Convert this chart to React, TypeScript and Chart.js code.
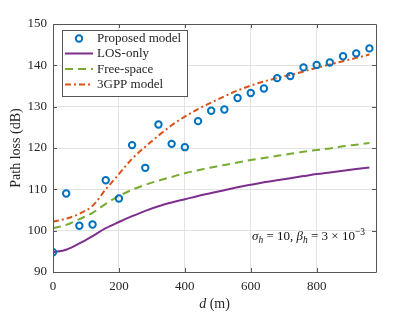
import React, { useEffect, useRef } from 'react';
import { Chart, registerables } from 'chart.js';
Chart.register(...registerables);

const distances = [0, 40, 80, 120, 160, 200, 240, 280, 320, 360, 400, 440, 480, 520, 560, 600, 640, 680, 720, 760, 800, 840, 880, 920, 960];
const proposed = [94.8, 109.0, 101.2, 101.5, 112.2, 107.8, 120.7, 115.2, 125.7, 121.0, 120.2, 126.5, 129.0, 129.3, 132.1, 133.3, 134.4, 136.9, 137.4, 139.5, 140.1, 140.7, 142.2, 142.9, 144.1];
const losOnly = [94.8, 95.4, 96.9, 98.7, 100.6, 102.1, 103.5, 104.8, 105.9, 106.8, 107.6, 108.4, 109.1, 109.8, 110.5, 111.1, 111.7, 112.2, 112.7, 113.2, 113.7, 114.1, 114.5, 114.9, 115.3];
const freeSpace = [100.6, 101.4, 102.8, 104.3, 106.5, 108.4, 109.9, 111.1, 112.1, 113.0, 113.9, 114.6, 115.3, 115.9, 116.5, 117.1, 117.6, 118.1, 118.6, 119.1, 119.5, 119.9, 120.4, 120.8, 121.2];
const gpp3 = [102.2, 102.9, 104.1, 106.0, 110.0, 113.7, 117.4, 120.3, 123.0, 125.5, 127.6, 129.4, 131.0, 132.5, 133.9, 135.1, 136.1, 136.9, 137.7, 138.5, 139.4, 140.2, 141.0, 141.8, 142.6];
const xTicks = [0, 200, 400, 600, 800];
const yTicks = [90, 100, 110, 120, 130, 140, 150];
const seriesNames = ['Proposed model', 'LOS-only', 'Free-space', '3GPP model'];

const SERIF = "'Liberation Serif', 'DejaVu Serif', serif";
const AXIS_COLOR = '#555555';
const TEXT_COLOR = '#262626';

const drawParts = (ctx: any, parts: [string, string, number][], x: number, y: number, align: 'left' | 'right' | 'center') => {
  let total = 0;
  parts.forEach(([t, f]) => { ctx.font = f; total += ctx.measureText(t).width; });
  let cx = align === 'left' ? x : align === 'right' ? x - total : x - total / 2;
  parts.forEach(([t, f, dy]) => {
    ctx.font = f;
    ctx.fillText(t, cx, y + dy);
    cx += ctx.measureText(t).width;
  });
};

const overlay = {
  id: 'overlay',
  afterDatasetsDraw(chart: any) {
    const ctx = chart.ctx;
    const { left, right, top, bottom } = chart.chartArea;
    const xs = chart.scales.x;
    const ys = chart.scales.y;
    ctx.save();
    ctx.strokeStyle = AXIS_COLOR;
    ctx.lineWidth = 1;
    ctx.beginPath();
    ctx.rect(Math.round(left) + 0.5, Math.round(top) + 0.5, Math.round(right - left), Math.round(bottom - top));
    ctx.stroke();
    const tl = 4;
    ctx.beginPath();
    xTicks.forEach((v) => {
      const px = Math.round(xs.getPixelForValue(v)) + 0.5;
      ctx.moveTo(px, bottom); ctx.lineTo(px, bottom - tl);
      ctx.moveTo(px, top); ctx.lineTo(px, top + tl);
    });
    yTicks.forEach((v) => {
      const py = Math.round(ys.getPixelForValue(v)) + 0.5;
      ctx.moveTo(left, py); ctx.lineTo(left + tl, py);
      ctx.moveTo(right, py); ctx.lineTo(right - tl, py);
    });
    ctx.stroke();

    // legend
    const lx = 62, ly = 30, lw = 125, lh = 66;
    ctx.fillStyle = '#ffffff';
    ctx.fillRect(lx, ly, lw, lh);
    ctx.strokeStyle = AXIS_COLOR;
    ctx.strokeRect(lx + 0.5, ly + 0.5, lw, lh);
    const rowY = [38.5, 53.5, 69, 84.5];
    ctx.font = `13px ${SERIF}`;
    ctx.textBaseline = 'middle';
    ctx.textAlign = 'left';
    chart.data.datasets.forEach((ds: any, i: number) => {
      const y = rowY[i];
      ctx.save();
      ctx.strokeStyle = ds.borderColor;
      ctx.lineWidth = ds.borderWidth;
      if (i === 0) {
        ctx.beginPath();
        ctx.arc(79, y, ds.pointRadius, 0, Math.PI * 2);
        ctx.stroke();
      } else {
        ctx.setLineDash(ds.borderDash || []);
        ctx.beginPath();
        ctx.moveTo(65, y);
        ctx.lineTo(93, y);
        ctx.stroke();
      }
      ctx.restore();
      ctx.font = `13px ${SERIF}`;
      ctx.fillStyle = TEXT_COLOR;
      ctx.fillText(ds.label, 97, y + 0.5);
    });

    // annotation
    ctx.textBaseline = 'alphabetic';
    ctx.fillStyle = '#111111';
    const big = `italic 13px ${SERIF}`;
    const bigN = `13px ${SERIF}`;
    const sub = `italic 9.5px ${SERIF}`;
    const subN = `9.5px ${SERIF}`;
    drawParts(ctx, [
      ['\u03C3', big, 0], ['h', sub, 3], [' = 10, ', bigN, 0],
      ['\u03B2', big, 0], ['h', sub, 3], [' = 3 \u00D7 10', bigN, 0], ['\u22123', subN, -5],
    ], 365, 239.5, 'right');

    // x axis title
    ctx.fillStyle = TEXT_COLOR;
    drawParts(ctx, [['d', `italic 14px ${SERIF}`, 0], [' (m)', `14px ${SERIF}`, 0]], (left + right) / 2, 308, 'center');
    ctx.restore();
  },
};

export default function App() {
  const ref = useRef<HTMLCanvasElement | null>(null);
  useEffect(() => {
    if (!ref.current) return;
    const pts = (arr: number[]) => distances.map((d, i) => ({ x: d, y: arr[i] }));
    const chart = new Chart(ref.current, {
      type: 'line',
      data: {
        datasets: [
          {
            label: seriesNames[0], data: pts(proposed), showLine: false,
            borderColor: '#0072BD', backgroundColor: 'rgba(0,0,0,0)',
            pointRadius: 3.2, pointBorderWidth: 2, borderWidth: 2, pointStyle: 'circle',
            pointBorderColor: '#0072BD', pointBackgroundColor: 'rgba(0,0,0,0)',
          },
          {
            label: seriesNames[1], data: pts(losOnly), borderColor: '#7E2F8E',
            borderWidth: 2, pointRadius: 0, cubicInterpolationMode: 'monotone', fill: false,
          },
          {
            label: seriesNames[2], data: pts(freeSpace), borderColor: '#77AC30',
            borderWidth: 2, borderDash: [8, 5], pointRadius: 0, cubicInterpolationMode: 'monotone', fill: false,
          },
          {
            label: seriesNames[3], data: pts(gpp3), borderColor: '#D95319',
            borderWidth: 2, borderDash: [6, 3, 2, 3], pointRadius: 0, cubicInterpolationMode: 'monotone', fill: false,
          },
        ],
      } as any,
      options: {
        animation: false,
        responsive: false,
        maintainAspectRatio: false,
        layout: { padding: { left: 0, top: 24, right: 39, bottom: 0 } },
        plugins: { legend: { display: false }, tooltip: { enabled: false } },
        scales: {
          x: {
            type: 'linear', min: 0, max: 980,
            afterBuildTicks: (s: any) => { s.ticks = xTicks.map((v) => ({ value: v })); },
            afterFit: (s: any) => { s.height = 40; },
            grid: { color: '#e3e3e3', drawTicks: false },
            border: { display: false },
            ticks: { padding: 7, color: TEXT_COLOR, font: { family: SERIF, size: 13 }, maxRotation: 0 },
            title: { display: false },
          },
          y: {
            type: 'linear', min: 90, max: 150,
            afterBuildTicks: (s: any) => { s.ticks = yTicks.map((v) => ({ value: v })); },
            afterFit: (s: any) => { s.width = 53; },
            grid: { color: '#e3e3e3', drawTicks: false },
            border: { display: false },
            ticks: { padding: 6, color: TEXT_COLOR, font: { family: SERIF, size: 13 } },
            title: { display: true, text: 'Path loss (dB)', color: TEXT_COLOR, font: { family: SERIF, size: 14 }, padding: { top: 8, bottom: 0 } },
          },
        },
      } as any,
      plugins: [overlay],
    });
    return () => chart.destroy();
  }, []);
  return (
    <div style={{ position: 'fixed', left: 0, top: 0, width: 415, height: 312, background: '#fff' }}>
      <canvas ref={ref} width={415} height={312} style={{ width: 415, height: 312, display: 'block' }} />
    </div>
  );
}
